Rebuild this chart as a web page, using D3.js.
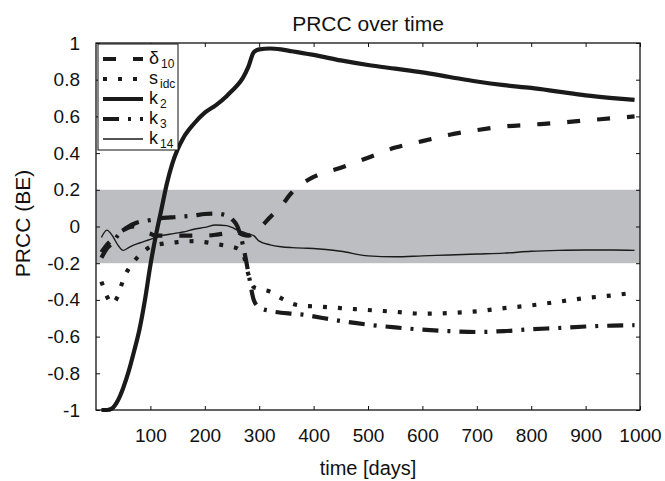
<!DOCTYPE html>
<html>
<head>
<meta charset="utf-8">
<script src="https://cdn.jsdelivr.net/npm/d3@7"></script>
<style>
  body { margin: 0; background: #fff; }
  svg text { font-family: "Liberation Sans", Arial, sans-serif; fill: #111; }
</style>
</head>
<body>
<div id="chart"></div>
<script>
// sampled time points (days)
var days = [10,20,30,40,50,60,70,80,90,100,110,120,130,140,150,160,180,200,220,240,250,260,270,280,290,300,
            320,340,360,380,400,450,500,550,600,650,700,750,800,850,900,950,990];

// PRCC values, one array per parameter
var delta10 = [-0.14,-0.1,-0.07,-0.04,-0.02,-0.005,0.0,-0.015,-0.03,-0.04,-0.05,-0.05,-0.05,-0.05,-0.05,-0.05,-0.05,-0.05,-0.045,-0.035,-0.025,-0.03,-0.045,-0.05,-0.035,-0.01,
               0.05,0.11,0.185,0.235,0.27,0.32,0.375,0.43,0.465,0.5,0.525,0.545,0.555,0.565,0.578,0.59,0.6];
var sIdc = [-0.3,-0.38,-0.42,-0.38,-0.29,-0.23,-0.19,-0.155,-0.13,-0.11,-0.1,-0.095,-0.09,-0.088,-0.085,-0.082,-0.08,-0.085,-0.095,-0.105,-0.11,-0.12,-0.145,-0.26,-0.33,-0.34,
            -0.355,-0.39,-0.42,-0.432,-0.435,-0.445,-0.455,-0.465,-0.475,-0.472,-0.462,-0.445,-0.43,-0.41,-0.39,-0.375,-0.36];
var k2 = [-1,-1,-0.99,-0.95,-0.88,-0.79,-0.68,-0.56,-0.4,-0.21,-0.05,0.09,0.23,0.34,0.42,0.48,0.56,0.62,0.66,0.71,0.74,0.77,0.81,0.87,0.95,0.965,
          0.97,0.965,0.955,0.945,0.935,0.905,0.88,0.86,0.84,0.815,0.79,0.77,0.755,0.735,0.715,0.7,0.69];
var k3 = [-0.17,-0.12,-0.09,-0.05,-0.02,0.0,0.015,0.025,0.03,0.035,0.04,0.045,0.048,0.05,0.052,0.055,0.06,0.068,0.07,0.06,0.04,0.0,-0.1,-0.25,-0.4,-0.44,
          -0.46,-0.47,-0.475,-0.48,-0.49,-0.515,-0.535,-0.55,-0.562,-0.57,-0.575,-0.57,-0.56,-0.553,-0.545,-0.54,-0.538];
var k14 = [-0.06,-0.02,-0.05,-0.1,-0.13,-0.115,-0.1,-0.09,-0.08,-0.07,-0.06,-0.05,-0.045,-0.04,-0.035,-0.03,-0.015,-0.005,0.008,0.005,-0.005,-0.02,-0.03,-0.04,-0.05,-0.08,
           -0.1,-0.11,-0.115,-0.118,-0.12,-0.135,-0.16,-0.165,-0.16,-0.155,-0.15,-0.145,-0.135,-0.13,-0.128,-0.128,-0.13];

var xTicks = [100,200,300,400,500,600,700,800,900,1000];
var yTicks = [-1,-0.8,-0.6,-0.4,-0.2,0,0.2,0.4,0.6,0.8,1];
var band = [-0.2, 0.2];

var series = [
    {name: "δ", sub: "10", values: delta10, width: 4.2, dash: "13,17"},
    {name: "s", sub: "idc", values: sIdc, width: 4.2, dash: "4,11"},
    {name: "k", sub: "2", values: k2, width: 4.2, dash: null},
    {name: "k", sub: "3", values: k3, width: 4.2, dash: "16,9,3,9"},
    {name: "k", sub: "14", values: k14, width: 1.4, dash: null}
];

var margin = {top: 43, right: 25, bottom: 71, left: 96};
var width = 665 - margin.left - margin.right;
var height = 481 - margin.top - margin.bottom;

var svg = d3.select("#chart").append("svg")
    .attr("width", 665)
    .attr("height", 481)
    .append("g")
    .attr("transform", "translate(" + margin.left + "," + margin.top + ")");

var x = d3.scaleLinear().domain([0, 1000]).range([0, width]);
var y = d3.scaleLinear().domain([-1, 1]).range([height, 0]);

// grey insignificance band
svg.append("rect")
    .attr("x", 0)
    .attr("width", width)
    .attr("y", y(band[1]))
    .attr("height", y(band[0]) - y(band[1]))
    .attr("fill", "#bdbec1");

// lines
var line = d3.line()
    .x(function(d) { return x(d[0]); })
    .y(function(d) { return y(d[1]); })
    .curve(d3.curveMonotoneX);

series.forEach(function(s) {
    var pts = days.map(function(t, i) { return [t, s.values[i]]; });
    svg.append("path")
        .datum(pts)
        .attr("d", line)
        .attr("fill", "none")
        .attr("stroke", "#1a1a1a")
        .attr("stroke-width", s.width)
        .attr("stroke-dasharray", s.dash);
});

// axes (matlab style box with inward ticks)
var xAxis = svg.append("g")
    .attr("transform", "translate(0," + height + ")")
    .call(d3.axisBottom(x).tickValues(xTicks).tickSizeInner(-4).tickSizeOuter(0).tickPadding(19).tickFormat(d3.format("d")));
var xTop = svg.append("g")
    .call(d3.axisTop(x).tickValues(xTicks).tickSizeInner(-4).tickSizeOuter(0).tickFormat(""));
var yAxis = svg.append("g")
    .call(d3.axisLeft(y).tickValues(yTicks).tickSizeInner(-4).tickSizeOuter(0).tickPadding(16)
        .tickFormat(function(d) { return String(+d.toFixed(1)); }));
var yRight = svg.append("g")
    .attr("transform", "translate(" + width + ",0)")
    .call(d3.axisRight(y).tickValues(yTicks).tickSizeInner(-4).tickSizeOuter(0).tickFormat(""));

[xAxis, xTop, yAxis, yRight].forEach(function(a) {
    a.select(".domain").remove();
    a.selectAll(".tick line").attr("stroke", "#111").attr("stroke-width", 1);
    a.selectAll("text").style("font-size", "19px").attr("fill", "#111");
});

svg.append("rect")
    .attr("width", width)
    .attr("height", height)
    .attr("fill", "none")
    .attr("stroke", "#111")
    .attr("stroke-width", 1.3);

// titles
svg.append("text")
    .attr("x", width / 2)
    .attr("y", -12)
    .attr("text-anchor", "middle")
    .style("font-size", "21px")
    .text("PRCC over time");

svg.append("text")
    .attr("x", width / 2)
    .attr("y", height + 65)
    .attr("text-anchor", "middle")
    .style("font-size", "20px")
    .text("time [days]");

svg.append("text")
    .attr("transform", "translate(" + (30 - margin.left) + "," + (y(0) - 3) + ") rotate(-90)")
    .attr("text-anchor", "middle")
    .style("font-size", "21px")
    .text("PRCC (BE)");

// legend
var legend = svg.append("g").attr("transform", "translate(2,1)");
legend.append("rect")
    .attr("width", 80)
    .attr("height", 106)
    .attr("fill", "#fff")
    .attr("stroke", "#111")
    .attr("stroke-width", 1);

series.forEach(function(s, i) {
    var ly = 15 + i * 20;
    legend.append("line")
        .attr("x1", 5).attr("x2", 45)
        .attr("y1", ly).attr("y2", ly)
        .attr("stroke", "#1a1a1a")
        .attr("stroke-width", s.width)
        .attr("stroke-dasharray", s.dash);
    var t = legend.append("text")
        .attr("x", 51)
        .attr("y", ly + 5)
        .style("font-size", "18px")
        .text(s.name);
    t.append("tspan")
        .attr("dx", 2)
        .attr("dy", 4)
        .style("font-size", "12px")
        .text(s.sub);
});
</script>
</body>
</html>
